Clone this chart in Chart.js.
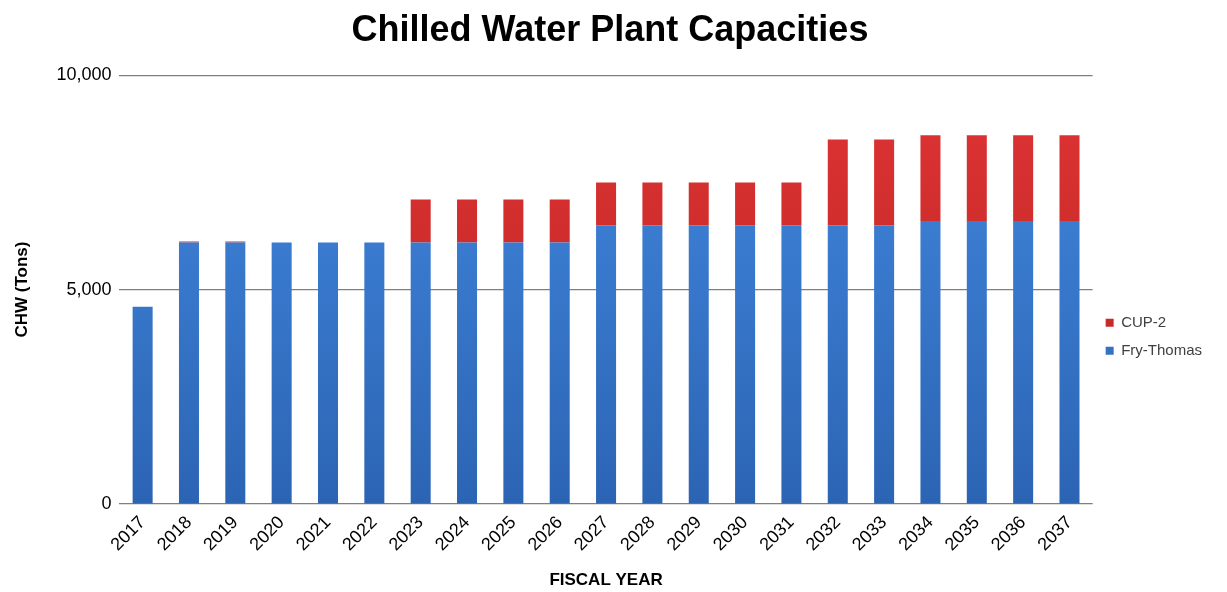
<!DOCTYPE html>
<html>
<head>
<meta charset="utf-8">
<script src="https://cdn.jsdelivr.net/npm/chart.js@4"></script>
<style>
  html, body { margin: 0; padding: 0; background: #fff; }
  #wrap { width: 1227px; height: 592px; }
</style>
</head>
<body>
<div id="wrap"><canvas id="chart"></canvas></div>
<script>
const years = ['2017','2018','2019','2020','2021','2022','2023','2024','2025','2026','2027',
               '2028','2029','2030','2031','2032','2033','2034','2035','2036','2037']
const fryThomas = [4600,6100,6100,6100,6100,6100,6100,6100,6100,6100,6500,
                   6500,6500,6500,6500,6500,6500,6600,6600,6600,6600]
const cup2 = [0,20,20,0,0,0,1000,1000,1000,1000,1000,
              1000,1000,1000,1000,2000,2000,2000,2000,2000,2000]
const yTicks = [0, 5000, 10000]

const ctx = document.getElementById('chart')

function grad(c, top, bottom) {
    const area = c.chart.chartArea
    if (!area) return top
    const g = c.chart.ctx.createLinearGradient(0, area.top, 0, area.bottom)
    g.addColorStop(0, top)
    g.addColorStop(1, bottom)
    return g
}

new Chart(ctx, {
    type: 'bar',
    data: {
        labels: years,
        datasets: [
            {
                label: 'Fry-Thomas',
                data: fryThomas,
                backgroundColor: c => grad(c, '#4289e0', '#2c64b4'),
                categoryPercentage: 0.9,
                barPercentage: 0.48
            },
            {
                label: 'CUP-2',
                data: cup2,
                backgroundColor: c => grad(c, '#e03434', '#b52222'),
                categoryPercentage: 0.9,
                barPercentage: 0.48
            }
        ]
    },
    options: {
        responsive: true,
        maintainAspectRatio: false,
        animation: false,
        layout: { padding: { left: 8, right: 15, top: 4, bottom: 1 } },
        plugins: {
            title: {
                display: true,
                text: 'Chilled Water Plant Capacities',
                color: '#000',
                font: { family: '"Liberation Sans", Arial', size: 36, weight: 'bold' },
                padding: { top: 5, bottom: 23 }
            },
            legend: {
                position: 'right',
                reverse: true,
                title: { display: true, text: ' ', padding: { top: 32, bottom: 32 }, font: { size: 12 } },
                labels: {
                    boxWidth: 8,
                    boxHeight: 8,
                    color: '#404040',
                    padding: 13,
                    font: { family: '"Liberation Sans", Arial', size: 15 }
                }
            },
            tooltip: { enabled: false }
        },
        scales: {
            x: {
                stacked: true,
                grid: { display: false },
                border: { display: false },
                ticks: {
                    minRotation: 45,
                    maxRotation: 45,
                    padding: 0,
                    color: '#000',
                    font: { family: '"Liberation Sans", Arial', size: 18 }
                },
                title: {
                    display: true,
                    text: 'FISCAL YEAR',
                    color: '#000',
                    font: { family: '"Liberation Sans", Arial', size: 17, weight: 'bold' },
                    padding: { top: 15, bottom: 0 }
                }
            },
            y: {
                stacked: true,
                min: 0,
                max: 10000,
                afterBuildTicks: axis => { axis.ticks = yTicks.map(v => ({ value: v })) },
                grid: { color: '#7f7f7f', lineWidth: 1.2, drawTicks: false },
                border: { display: false },
                ticks: {
                    padding: 8,
                    color: '#000',
                    font: { family: '"Liberation Sans", Arial', size: 18 },
                    callback: v => v.toLocaleString('en-US')
                },
                title: {
                    display: true,
                    text: 'CHW (Tons)',
                    color: '#000',
                    font: { family: '"Liberation Sans", Arial', size: 17, weight: 'bold' },
                    padding: { bottom: 16 }
                }
            }
        }
    }
})
</script>
</body>
</html>
